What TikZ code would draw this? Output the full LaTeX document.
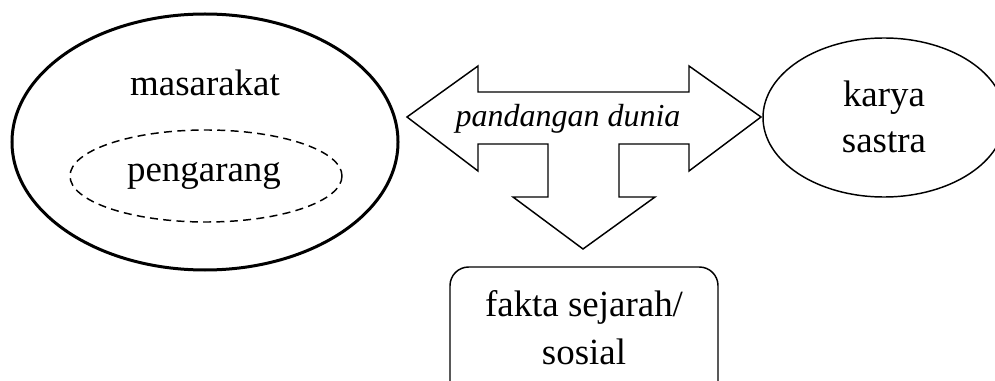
\documentclass[tikz,border=0pt]{standalone}
\usepackage{fontspec}
\setmainfont{Liberation Serif}
\usepackage{tikz}
\usepackage{xcolor}
\tikzset{every picture/.style={line width=0.75pt}}
\tikzset{
  lbl/.style={font=\fontsize{27.7}{34}\selectfont, align=center, inner sep=0pt},
  thinline/.style={line width=1.1pt, line join=miter},
}

\begin{document}
\begin{tikzpicture}[x=0.75pt,y=0.75pt,yscale=-1,xscale=1]
\useasboundingbox (0,0) rectangle (995,381);
\clip (0,0) rectangle (995,381);

%Shape: Ellipse [masarakat]
\draw [line width=2.25pt]  (205,142) ellipse (193 and 128);
%Shape: Ellipse [pengarang]
\draw [thinline, dash pattern=on 6pt off 4pt]  (206,176) ellipse (136 and 46);
%Shape: Ellipse [karya sastra]
\draw [thinline]  (884,117.5) ellipse (121 and 79.5);
%Shape: Rounded Rectangle [fakta]
\draw [thinline, rounded corners=14pt]  (450,267) rectangle (718,400);
%Shape: Block Arrow [pandangan dunia]
\draw [thinline]  (407,117) -- (478,66) -- (478,92) -- (689,92) -- (689,66) -- (761,117)
  -- (689,171) -- (689,144) -- (619,144) -- (619,197) -- (655,197) -- (583,249)
  -- (513,197) -- (548,197) -- (548,144) -- (478,144) -- (478,171) -- cycle ;

% Text Node
\node [lbl] (masy) at (205,83) {masarakat};
% Text Node
\node [lbl] (peng) at (204,176) {pengarang};
% Text Node
\node [lbl, font=\fontsize{24}{30}\selectfont\itshape] (pandang) at (568,119) {pandangan dunia};
% Text Node
\node [lbl, font=\fontsize{27.7}{34}\selectfont] (karya) at (884,117) {karya\\sastra};
% Text Node
\node [lbl, font=\fontsize{27.7}{36}\selectfont] (fakta) at (584,328) {fakta sejarah/\\sosial};

\end{tikzpicture}
\end{document}
